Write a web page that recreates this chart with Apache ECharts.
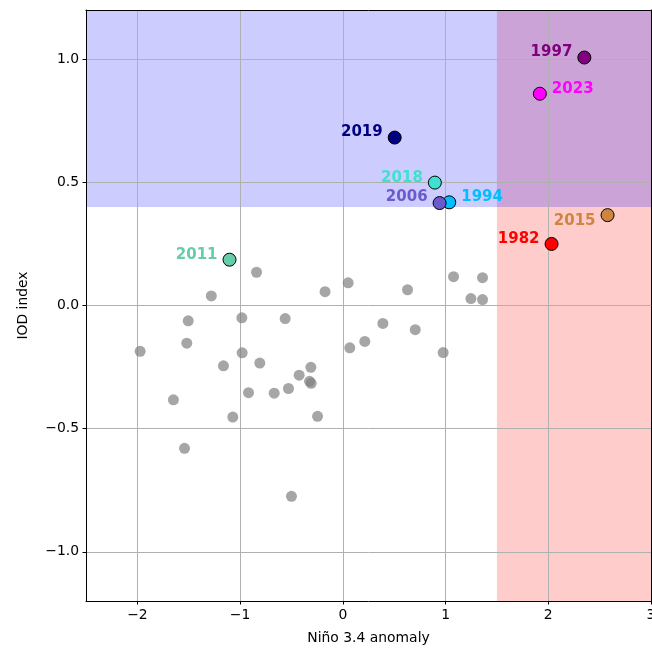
<!DOCTYPE html>
<html>
<head>
<meta charset="utf-8">
<title>IOD vs Niño 3.4</title>
<script src="https://cdn.jsdelivr.net/npm/echarts@6/dist/echarts.min.js"></script>
<style>
  html, body { margin: 0; padding: 0; background: #fff; }
  #chart { width: 652px; height: 651px; }
</style>
</head>
<body>
<div id="chart"></div>
<script>
// Other years (plain grey markers)
const otherNino = [-0.84, -1.28, -1.505, -0.983, -0.561, -0.173, 0.052, -1.973, -1.519, -0.98,
  0.068, 0.214, -1.162, -0.808, -0.311, -0.425, -0.324, -0.308, -0.918, -0.668,
  -0.529, -1.649, -1.071, -0.246, -1.541, -0.5, 0.63, 1.078, 1.36, 1.247,
  1.36, 0.39, 0.705, 0.977];
const otherIod = [0.135, 0.039, -0.062, -0.05, -0.053, 0.056, 0.092, -0.186, -0.153, -0.192,
  -0.172, -0.146, -0.245, -0.234, -0.251, -0.283, -0.308, -0.316, -0.354, -0.356,
  -0.337, -0.383, -0.453, -0.45, -0.58, -0.775, 0.064, 0.117, 0.113, 0.028,
  0.024, -0.073, -0.098, -0.191];

// Highlighted years
const keyYears = ['1997', '2023', '2019', '2018', '1994', '2006', '2015', '1982', '2011'];
const keyNino = [2.351, 1.918, 0.505, 0.896, 1.036, 0.942, 2.577, 2.032, -1.103];
const keyIod = [1.007, 0.86, 0.682, 0.499, 0.419, 0.416, 0.367, 0.25, 0.186];

// Thresholds for the shaded regimes
const iodThreshold = 0.4;
const ninoThreshold = 1.5;

// Axis ranges and ticks
const xRange = [-2.5, 3];
const yRange = [-1.2, 1.2];
const xTicks = [-2, -1, 0, 1, 2, 3];
const yTicks = [-1, -0.5, 0, 0.5, 1];

// Styling per highlighted year
const keyColors = {
  '1997': '#800080', '2023': '#ff00ff', '2019': '#000080', '2018': '#40e0d0',
  '1994': '#00bfff', '2006': '#6a5acd', '2015': '#cd853f', '1982': '#ff0000',
  '2011': '#66cdaa'
};
const labelSide = {
  '1997': ['left', -5], '2023': ['right', -5], '2019': ['left', -5], '2018': ['left', -5],
  '1994': ['right', -5], '2006': ['left', -6], '2015': ['left', 6], '1982': ['left', -5],
  '2011': ['left', -5]
};

const FONT = 'DejaVu Sans';
const minus = s => String(s).replace('-', '\u2212');

const baseAxis = {
  axisLine: { show: true, onZero: false, lineStyle: { color: '#000', width: 1 } },
  axisTick: { show: true, length: 3.5, lineStyle: { color: '#000', width: 1 } },
  splitLine: { show: true, lineStyle: { color: '#b0b0b0', width: 1 } },
  z: 2
};
const frameAxis = {
  axisLine: { show: true, onZero: false, lineStyle: { color: '#000', width: 1 } },
  axisTick: { show: false }, axisLabel: { show: false }, splitLine: { show: false }, z: 3
};

const series = [];

// Shaded regimes (kept beneath the grid lines)
series.push({
  type: 'scatter', name: 'regimes', data: [], z: 0, silent: true,
  markArea: {
    silent: true, z: 0,
    data: [
      [{ coord: [ninoThreshold, yRange[0]], itemStyle: { color: 'rgba(255,0,0,0.2)' } },
       { coord: [xRange[1], yRange[1]] }],
      [{ coord: [xRange[0], iodThreshold], itemStyle: { color: 'rgba(0,0,255,0.2)' } },
       { coord: [xRange[1], yRange[1]] }]
    ]
  }
});

series.push({
  type: 'scatter', name: 'other', z: 4,
  symbolSize: 11,
  itemStyle: { color: 'gray', opacity: 0.7 },
  data: otherNino.map((x, i) => [x, otherIod[i]])
});

keyYears.forEach((yr, i) => {
  const [side, dy] = labelSide[yr];
  series.push({
    type: 'scatter', name: yr, z: 5 + i,
    symbolSize: 13,
    itemStyle: { color: keyColors[yr], borderColor: '#000', borderWidth: 1, opacity: 1 },
    label: {
      show: true, formatter: yr, position: side, distance: 5, offset: [0, dy],
      color: keyColors[yr], fontFamily: FONT, fontWeight: 'bold', fontSize: 15
    },
    data: [[keyNino[i], keyIod[i]]]
  });
});

const chart = echarts.init(document.getElementById('chart'), null, { renderer: 'canvas' });
chart.setOption({
  animation: false,
  backgroundColor: '#fff',
  grid: { left: 86, right: 1, top: 10, bottom: 50, containLabel: false, outerBoundsMode: 'none' },
  xAxis: [
    Object.assign({}, baseAxis, {
      type: 'value', position: 'bottom', min: xRange[0], max: xRange[1],
      name: 'Niño 3.4 anomaly', nameLocation: 'middle', nameGap: 30,
      nameTextStyle: { fontFamily: FONT, fontSize: 13.9, color: '#000' },
      axisTick: Object.assign({}, baseAxis.axisTick, { customValues: xTicks }),
      axisLabel: { customValues: xTicks, margin: 7, fontFamily: FONT, fontSize: 13.9, color: '#000',
                   hideOverlap: false, formatter: v => minus(v) }
    }),
    Object.assign({}, frameAxis, { type: 'value', position: 'top', min: xRange[0], max: xRange[1] })
  ],
  yAxis: [
    Object.assign({}, baseAxis, {
      type: 'value', position: 'left', min: yRange[0], max: yRange[1],
      name: 'IOD index', nameLocation: 'middle', nameGap: 56,
      nameTextStyle: { fontFamily: FONT, fontSize: 13.9, color: '#000' },
      axisTick: Object.assign({}, baseAxis.axisTick, { customValues: yTicks }),
      axisLabel: { customValues: yTicks, margin: 7, fontFamily: FONT, fontSize: 13.9, color: '#000',
                   formatter: v => minus(Number(v).toFixed(1)) }
    }),
    Object.assign({}, frameAxis, { type: 'value', position: 'right', min: yRange[0], max: yRange[1] })
  ],
  series: series
});
</script>
</body>
</html>
